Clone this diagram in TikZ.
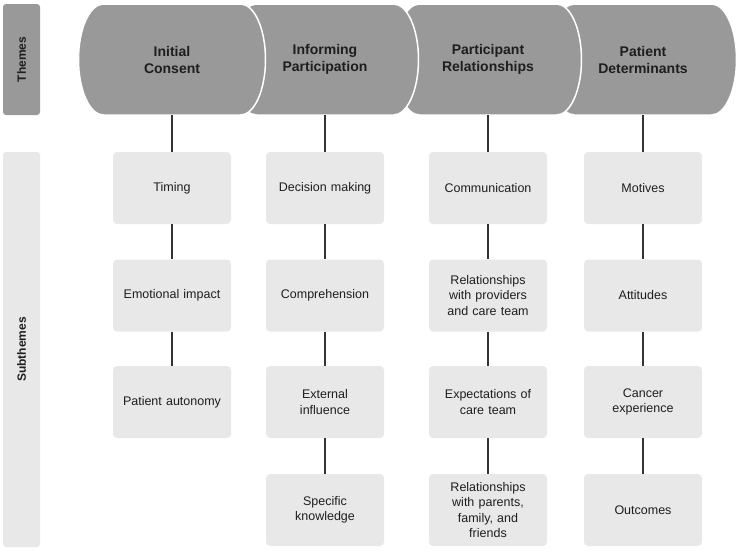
\documentclass[tikz,border=0pt]{standalone}
\usepackage{fontspec}
\setmainfont{Liberation Sans}
\usepackage{tikz}
\definecolor{themegray}{RGB}{153,153,153}
\definecolor{subgray}{RGB}{232,232,232}
\definecolor{linegray}{RGB}{51,51,51}
\definecolor{txtdark}{RGB}{30,30,30}

% stadium with elliptic ends, centred at x=#1
\newcommand{\themeshape}[1]{%
  \fill[themegray,draw=white,line width=1.5pt] (#1-68.5,-4) -- (#1+68.5,-4)
    arc[start angle=90,end angle=-90,x radius=25,y radius=55.5] -- (#1-68.5,-115)
    arc[start angle=270,end angle=90,x radius=25,y radius=55.5] -- cycle;}

\begin{document}
\begin{tikzpicture}[x=1pt,y=1pt,
    theme/.style={minimum width=187pt,minimum height=111pt,inner sep=0pt,align=center,
      font=\fontsize{14}{17}\selectfont\bfseries,text=txtdark},
    sub/.style={rectangle,rounded corners=4pt,fill=subgray,minimum width=118pt,
      minimum height=72pt,text width=112pt,inner sep=0pt,align=center,
      font=\fontsize{12.5}{15.5}\selectfont,text=txtdark},
    bar/.style={rectangle,rounded corners=3pt,rotate=90,minimum height=37pt,inner sep=0pt,
      font=\fontsize{12}{14}\selectfont\bfseries,text=txtdark},
    link/.style={draw=linegray,line width=1.2pt}]
  \useasboundingbox (0,0) rectangle (740,-550);

  \node[bar,fill=themegray,minimum width=111pt] (themes) at (21.5,-59.5) {Themes};
  \node[bar,fill=subgray,minimum width=395pt] (subthemes) at (21.5,-349.5) {Subthemes};

  % drawn right to left so each left shape lies on top
  \foreach \cx/\nm/\txt in {643/t4/{Patient\\Determinants},488/t3/{Participant\\Relationships},
      325/t2/{Informing\\Participation},172/t1/{Initial\\Consent}} {
    \themeshape{\cx}
    \node[theme] (\nm) at (\cx,-59.5) {\txt};
  }

  \node[sub] (t1a) at (172,-188) {Timing};
  \node[sub] (t1b) at (172,-295.5) {Emotional impact};
  \node[sub] (t1c) at (172,-402) {Patient autonomy};

  \node[sub] (t2a) at (325,-188) {Decision making};
  \node[sub] (t2b) at (325,-295.5) {Comprehension};
  \node[sub] (t2c) at (325,-402) {External\\influence};
  \node[sub] (t2d) at (325,-510) {Specific\\knowledge};

  \node[sub] (t3a) at (488,-188) {Communication};
  \node[sub] (t3b) at (488,-295.5) {Relationships\\with providers\\and care team};
  \node[sub] (t3c) at (488,-402) {Expectations of\\care team};
  \node[sub] (t3d) at (488,-510) {Relationships\\with parents,\\family, and\\friends};

  \node[sub] (t4a) at (643,-188) {Motives};
  \node[sub] (t4b) at (643,-295.5) {Attitudes};
  \node[sub] (t4c) at (643,-402) {Cancer\\experience};
  \node[sub] (t4d) at (643,-510) {Outcomes};

  \draw[link] (t1) -- (t1a);
  \draw[link] (t1a) -- (t1b);
  \draw[link] (t1b) -- (t1c);
  \draw[link] (t2) -- (t2a);
  \draw[link] (t2a) -- (t2b);
  \draw[link] (t2b) -- (t2c);
  \draw[link] (t2c) -- (t2d);
  \draw[link] (t3) -- (t3a);
  \draw[link] (t3a) -- (t3b);
  \draw[link] (t3b) -- (t3c);
  \draw[link] (t3c) -- (t3d);
  \draw[link] (t4) -- (t4a);
  \draw[link] (t4a) -- (t4b);
  \draw[link] (t4b) -- (t4c);
  \draw[link] (t4c) -- (t4d);
\end{tikzpicture}
\end{document}
